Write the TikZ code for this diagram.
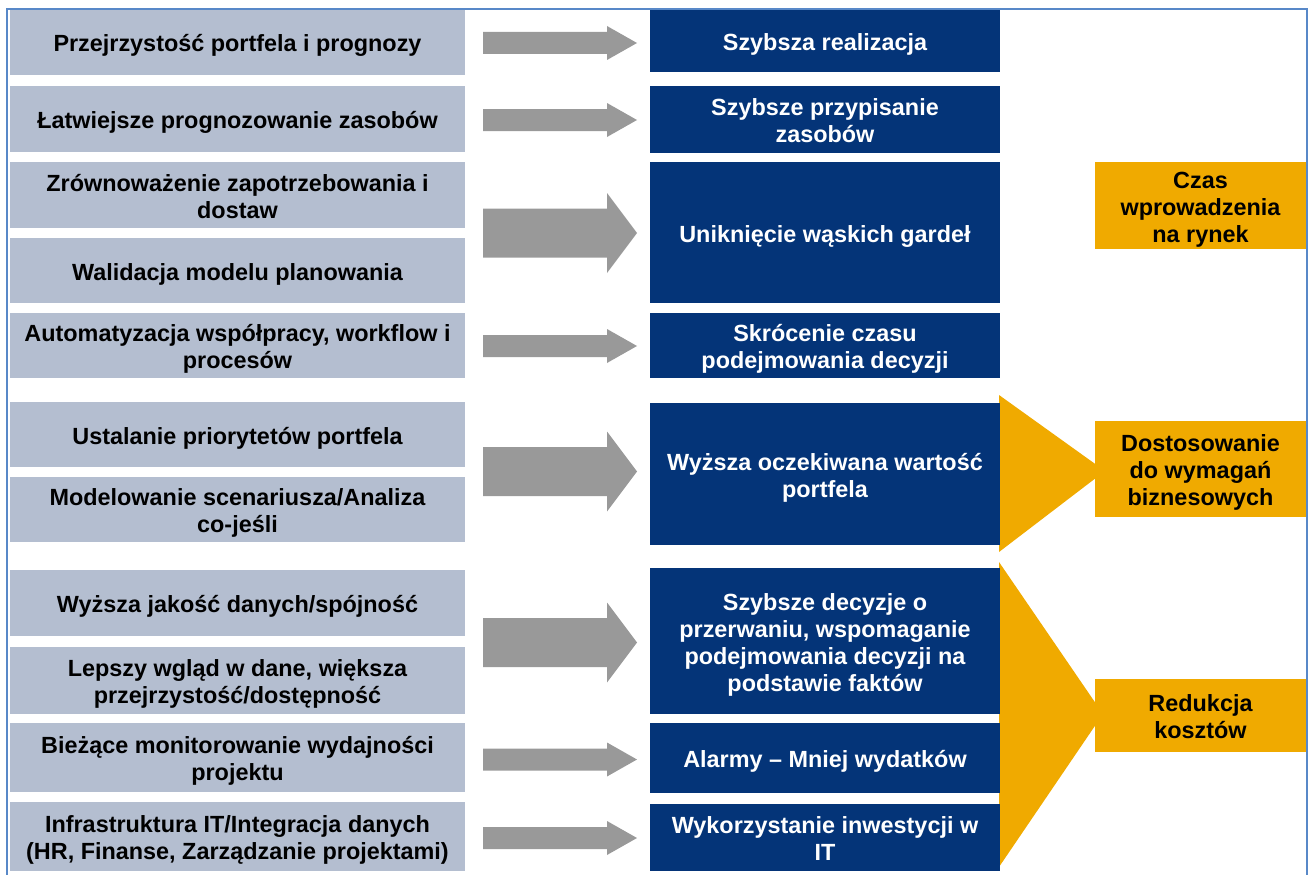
\documentclass[tikz,border=0pt]{standalone}
\usepackage{fontspec}
\setmainfont{Liberation Sans}
\usepackage{xcolor}
\definecolor{lgray}{RGB}{180,190,208}
\definecolor{navy}{RGB}{4,52,120}
\definecolor{gold}{RGB}{240,170,0}
\definecolor{agray}{RGB}{153,153,153}
\definecolor{frameblue}{RGB}{88,136,200}
\newcommand{\firstln}{\rule{0pt}{25pt}}

\tikzset{
  txt/.style={font=\fontsize{23.4}{27}\selectfont\bfseries, align=center, inner sep=0pt,
    execute at begin node={\firstln}, execute at end node={\rule[-6pt]{0pt}{0pt}}},
  lbox/.style={txt, fill=lgray, text=black, minimum width=455},
  bbox/.style={txt, fill=navy, text=white, minimum width=350},
  ybox/.style={txt, fill=gold, text=black, minimum width=211},
  garrow/.style={fill=agray},
  wedge/.style={fill=gold}
}

\begin{document}
\begin{tikzpicture}[x=1pt,y=-1pt]
\useasboundingbox (0,0) rectangle (1312,875);

\draw[frameblue, line width=2] (7,880) -- (7,9) -- (1307,9) -- (1307,880);

\node[lbox, minimum height=65] (l1) at (237.5,42.5) {Przejrzystość portfela i prognozy};
\node[lbox, minimum height=66] (l2) at (237.5,119) {Łatwiejsze prognozowanie zasobów};
\node[lbox, minimum height=66] (l3) at (237.5,195) {\firstln Zrównoważenie zapotrzebowania i\\dostaw};
\node[lbox, minimum height=65] (l4) at (237.5,270.5) {Walidacja modelu planowania};
\node[lbox, minimum height=65] (l5) at (237.5,345.5) {\firstln Automatyzacja współpracy, workflow i\\procesów};
\node[lbox, minimum height=65] (l6) at (237.5,434.5) {Ustalanie priorytetów portfela};
\node[lbox, minimum height=65] (l7) at (237.5,509.5) {\firstln Modelowanie scenariusza/Analiza\\co-jeśli};
\node[lbox, minimum height=66] (l8) at (237.5,603) {Wyższa jakość danych/spójność};
\node[lbox, minimum height=67] (l9) at (237.5,680.5) {\firstln Lepszy wgląd w dane, większa\\przejrzystość/dostępność};
\node[lbox, minimum height=69] (l10) at (237.5,757.5) {\firstln Bieżące monitorowanie wydajności\\projektu};
\node[lbox, minimum height=69] (l11) at (237.5,836.5) {\firstln Infrastruktura IT/Integracja danych\\(HR, Finanse, Zarządzanie projektami)};

\fill[garrow] (483,32) -- (607,32) -- (607,26) -- (637,43) -- (607,60) -- (607,54) -- (483,54) -- cycle;
\fill[garrow] (483,109) -- (607,109) -- (607,103) -- (637,120) -- (607,137) -- (607,131) -- (483,131) -- cycle;
\fill[garrow] (483,208.5) -- (607,208.5) -- (607,193) -- (637,233) -- (607,273) -- (607,257.5) -- (483,257.5) -- cycle;
\fill[garrow] (483,335) -- (607,335) -- (607,329) -- (637,346) -- (607,363) -- (607,357) -- (483,357) -- cycle;
\fill[garrow] (483,447) -- (607,447) -- (607,431.5) -- (637,471.5) -- (607,511.5) -- (607,496) -- (483,496) -- cycle;
\fill[garrow] (483,618) -- (607,618) -- (607,602.5) -- (637,642.5) -- (607,682.5) -- (607,667) -- (483,667) -- cycle;
\fill[garrow] (483,748.5) -- (607,748.5) -- (607,742.5) -- (637,759.5) -- (607,776.5) -- (607,770.5) -- (483,770.5) -- cycle;
\fill[garrow] (483,827) -- (607,827) -- (607,821) -- (637,838) -- (607,855) -- (607,849) -- (483,849) -- cycle;

\fill[wedge] (999,395) -- (1105,471) -- (999,552) -- cycle;
\fill[wedge] (999,562) -- (1103,714) -- (999,867) -- cycle;

\node[bbox, minimum height=62] (b1) at (825,41) {Szybsza realizacja};
\node[bbox, minimum height=67] (b2) at (825,119.5) {\firstln Szybsze przypisanie\\zasobów};
\node[bbox, minimum height=141] (b3) at (825,232.5) {Uniknięcie wąskich gardeł};
\node[bbox, minimum height=65] (b4) at (825,345.5) {\firstln Skrócenie czasu\\podejmowania decyzji};
\node[bbox, minimum height=142] (b5) at (825,474) {\firstln Wyższa oczekiwana wartość\\portfela};
\node[bbox, minimum height=146] (b6) at (825,641) {\firstln Szybsze decyzje o\\przerwaniu, wspomaganie\\podejmowania decyzji na\\podstawie faktów};
\node[bbox, minimum height=70] (b7) at (825,758) {Alarmy -- Mniej wydatków};
\node[bbox, minimum height=67] (b8) at (825,837.5) {\firstln Wykorzystanie inwestycji w\\IT};

\node[ybox, minimum height=87] (y1) at (1200.5,205.5) {\firstln Czas\\wprowadzenia\\na rynek};
\node[ybox, minimum height=96] (y2) at (1200.5,469) {\firstln Dostosowanie\\do wymagań\\biznesowych};
\node[ybox, minimum height=73] (y3) at (1200.5,715.5) {\firstln Redukcja\\kosztów};

\end{tikzpicture}
\end{document}
